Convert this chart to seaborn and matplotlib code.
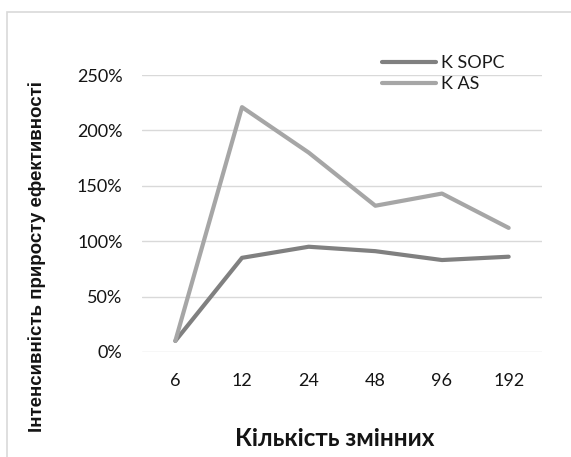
import pandas as pd
import matplotlib
matplotlib.use("Agg")
import matplotlib.pyplot as plt
from matplotlib.patches import Rectangle
from matplotlib.ticker import PercentFormatter
import seaborn as sns

# Дані з графіка
kilkist = ["6", "12", "24", "48", "96", "192"]
k_sopc = [0.10, 0.85, 0.95, 0.91, 0.83, 0.86]
k_as = [0.10, 2.21, 1.80, 1.32, 1.43, 1.12]
serii = ["K SOPC", "K AS"]
kolory = ["#808080", "#a6a6a6"]

sns.set_theme(style="white")
plt.rcParams["font.family"] = ["Lato", "DejaVu Sans"]

df = pd.DataFrame({
    "Кількість": kilkist * 2,
    "Значення": k_sopc + k_as,
    "Серія": [serii[0]] * len(kilkist) + [serii[1]] * len(kilkist),
})

W, H = 571, 457
fig = plt.figure(figsize=(W / 100, H / 100), dpi=100)
ax = fig.add_axes([142 / W, 1 - 352 / H, 400 / W, 277 / H])

sns.lineplot(data=df, x="Кількість", y="Значення", hue="Серія", sort=False,
             palette=kolory, linewidth=3, ax=ax)

ax.set_xlim(-0.5, len(kilkist) - 0.5)
ax.set_ylim(0, 2.5)
ax.set_yticks([0, 0.5, 1.0, 1.5, 2.0, 2.5])
ax.yaxis.set_major_formatter(PercentFormatter(1.0, decimals=0))
ax.grid(axis="y", color="#d9d9d9", linewidth=1)
ax.set_axisbelow(True)
for s in ax.spines.values():
    s.set_visible(False)
ax.tick_params(axis="both", length=0, labelsize=13, colors="#141414")
ax.tick_params(axis="y", pad=14)
ax.tick_params(axis="x", pad=15)

ax.set_ylabel("Інтенсивність приросту ефективності", fontsize=13.5, fontweight="bold",
              family=["Liberation Sans", "DejaVu Sans"], color="#141414",
              va="center", ha="center")
ax.yaxis.set_label_coords((37 - 142) / 400, (352 - 256) / 277)
ax.set_xlabel("Кількість змінних", fontsize=17.5, fontweight="bold", color="#141414",
              va="center", ha="center")
ax.xaxis.set_label_coords((335 - 142) / 400, (352 - 439) / 277)

leg = ax.legend(loc="center left", bbox_to_anchor=(382 / W, 1 - 73.5 / H),
                bbox_transform=fig.transFigure, frameon=False, fontsize=13,
                handlelength=3.0, handletextpad=0.28, labelspacing=0.28,
                borderpad=0, borderaxespad=0, title=None)
for t in leg.get_texts():
    t.set_color("#1a1a1a")

# рамка області діаграми
fig.patches.append(Rectangle((7 / W, -0.1), 2, (H - 12) / H + 0.1, transform=fig.transFigure,
                             fill=False, edgecolor="#d9d9d9", linewidth=1.2))

fig.savefig("out.png", dpi=100, facecolor="white")
